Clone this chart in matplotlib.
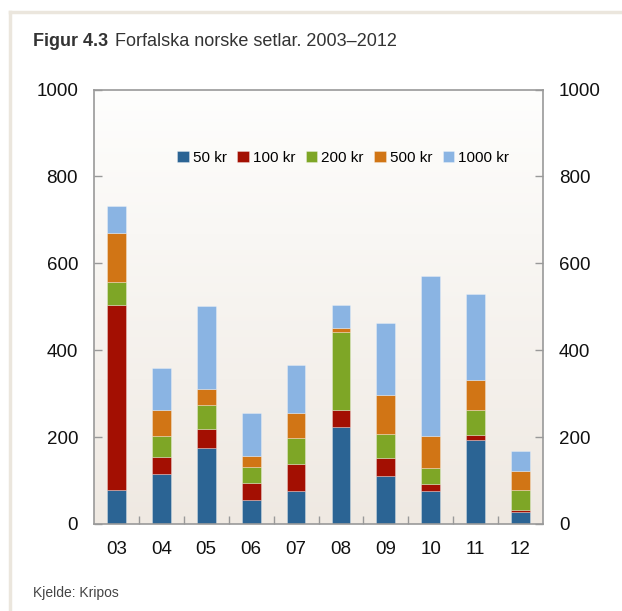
import numpy as np
import matplotlib
matplotlib.use("Agg")
import matplotlib.pyplot as plt
from matplotlib.lines import Line2D
from matplotlib.colors import LinearSegmentedColormap

plt.rcParams['font.family'] = ['Liberation Sans', 'DejaVu Sans']

years = ["03", "04", "05", "06", "07", "08", "09", "10", "11", "12"]
series_names = ["50 kr", "100 kr", "200 kr", "500 kr", "1000 kr"]
kr50 = [78, 115, 174, 55, 76, 223, 110, 75, 193, 28]
kr100 = [426, 40, 44, 40, 63, 39, 43, 17, 12, 4]
kr200 = [52, 48, 56, 36, 60, 180, 54, 37, 58, 47]
kr500 = [113, 60, 37, 26, 56, 8, 89, 73, 69, 43]
kr1000 = [63, 95, 190, 99, 112, 53, 166, 368, 197, 46]
colors = ["#2b6494", "#a30f02", "#7ea626", "#d17515", "#8ab4e3"]
yticks = [0, 200, 400, 600, 800, 1000]

W, H = 622, 611
fig = plt.figure(figsize=(W / 100, H / 100), dpi=100)

# Panel border
fig.add_artist(Line2D([10 / W, 1], [1 - 12 / H, 1 - 12 / H], color="#ebe6dd", lw=2.5, transform=fig.transFigure))
fig.add_artist(Line2D([10 / W, 10 / W], [0, 1 - 12 / H], color="#ebe6dd", lw=2.5, transform=fig.transFigure))

left, right, top, bottom = 94, 543, 89.5, 524
ax = fig.add_axes([left / W, 1 - bottom / H, (right - left) / W, (bottom - top) / H])

# gradient background
grad = np.linspace(0, 1, 256).reshape(-1, 1)
cmap = LinearSegmentedColormap.from_list("bg", ["#fefefd", "#efe9e2"])
ax.imshow(grad, aspect="auto", cmap=cmap, extent=[0, 1, 0, 1], transform=ax.transAxes, zorder=0)

x = np.arange(len(years))
data = [kr50, kr100, kr200, kr500, kr1000]
bottoms = np.zeros(len(years))
for name, vals, c in zip(series_names, data, colors):
    ax.bar(x, vals, width=0.42, bottom=bottoms, color=c, label=name,
           edgecolor=(1, 1, 1, 0.35), linewidth=0.6, zorder=2)
    bottoms += np.array(vals)

ax.set_xlim(-0.5, len(years) - 0.5)
ax.set_ylim(0, 1000)
ax.set_yticks(yticks)
ax.set_yticklabels([str(v) for v in yticks])
ax.tick_params(axis="y", direction="in", length=6, width=1, color="#999999",
               labelsize=13.5, pad=11.5, left=True, right=True, labelleft=True, labelright=True,
               labelcolor="#111111")
ax.set_xticks(x)
ax.set_xticklabels(years)
ax.set_xticks(np.arange(len(years) + 1)[1:-1] - 0.5, minor=True)
ax.tick_params(axis="x", which="major", length=0, labelsize=13.5, pad=12.5, labelcolor="#111111")
ax.tick_params(axis="x", which="minor", direction="in", length=6, width=1, color="#999999")
for s in ax.spines.values():
    s.set_color("#999999")
    s.set_linewidth(1.2)
    s.set_zorder(3)

leg = ax.legend(ncol=5, loc="center", bbox_to_anchor=(0.555, 0.842), frameon=False,
                fontsize=11, handlelength=0.75, handleheight=0.75, handletextpad=0.25,
                columnspacing=0.7, borderaxespad=0)

t1 = fig.text(33 / W, 1 - 42 / H, "Figur 4.3", fontsize=13, fontweight="bold", color="#333333",
              va="center", ha="left")
fig.canvas.draw()
bb = t1.get_window_extent()
fig.text((bb.x1 + 7) / W, 1 - 42 / H, "Forfalska norske setlar. 2003–2012", fontsize=13,
         color="#333333", va="center", ha="left")

fig.text(33 / W, 1 - 593 / H, "Kjelde: Kripos", fontsize=10, color="#444444", va="center", ha="left")

fig.savefig("out.png", dpi=100)
